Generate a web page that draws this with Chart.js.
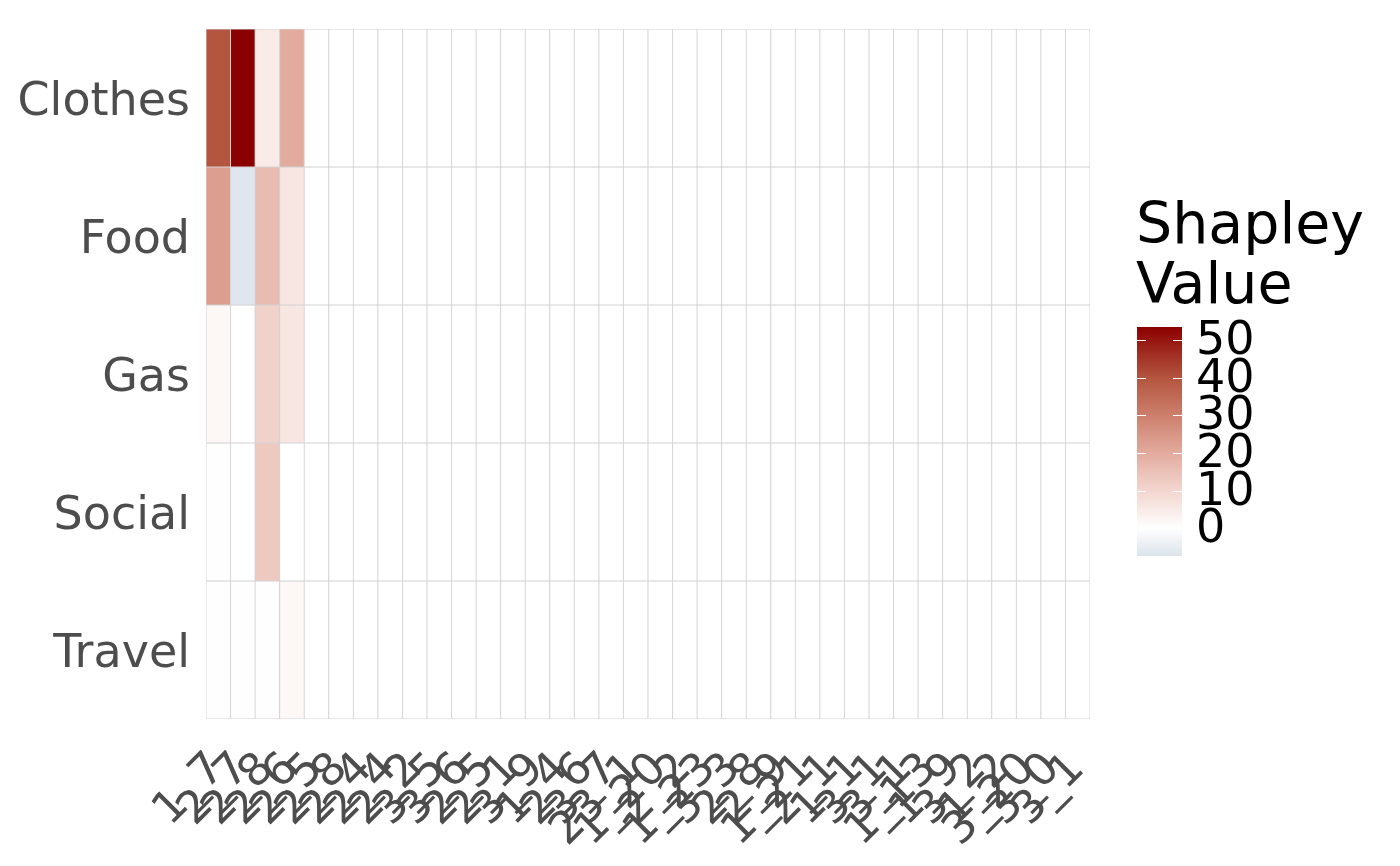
<!DOCTYPE html>
<html>
<head>
<meta charset="utf-8">
<script src="https://cdn.jsdelivr.net/npm/chart.js@4/dist/chart.umd.min.js"></script>
<style>
  html, body { margin: 0; padding: 0; background: #ffffff; }
  #wrap { width: 1400px; height: 866px; }
</style>
</head>
<body>
<div id="wrap"><canvas id="heat" width="1400" height="866"></canvas></div>
<script>
// linhas (de cima para baixo) e colunas
const rows = ['Clothes', 'Food', 'Gas', 'Social', 'Travel'];
const cols = ['1_7','2_7','2_8','2_6','2_5','2_8','2_4','2_4','2_2','3_5','3_6','2_5',
              '2_1','3_9','1_4','2_6','3_7','23_1','1_20','2_2','1_23','3_3','2_8','2_9',
              '1_21','2_1','1_1','3_1','3_1','1_13','1_9','3_2','1_2','3_20','3_0','3_1'];

// valores de Shapley por linha (só as 4 primeiras colunas têm valor, resto é 0)
const clothes = [40, 53.4, 5, 20];
const food    = [23, -6.5, 16, 6];
const gas     = [2, 0, 11, 6];
const social  = [0.3, 0, 13, 0];
const travel  = [0.3, 0.3, 0.2, 2];
const rowValues = [clothes, food, gas, social, travel];

// escala da legenda
const legendTicks = [0, 10, 20, 30, 40, 50];
const scaleMin = -7.3, scaleMax = 53.4;

// paleta (valor -> cor)
const colorStops = [
  [-7.3, [219, 227, 235]],
  [0,    [255, 255, 255]],
  [10,   [243, 214, 207]],
  [20,   [226, 171, 158]],
  [30,   [205, 127, 108]],
  [40,   [179, 85, 63]],
  [53.4, [139, 0, 0]]
];

function colorFor(v){
  if (v <= colorStops[0][0]) return rgb(colorStops[0][1]);
  for (let i = 1; i < colorStops.length; i++){
    const [v1, c1] = colorStops[i];
    const [v0, c0] = colorStops[i-1];
    if (v <= v1){
      const t = (v - v0) / (v1 - v0);
      return rgb(c0.map((c, k) => c + (c1[k] - c) * t));
    }
  }
  return rgb(colorStops[colorStops.length-1][1]);
}
function rgb(c){ return `rgb(${c.map(x => Math.round(x)).join(',')})`; }

function cellValue(r, i){ return i < rowValues[r].length ? rowValues[r][i] : 0; }

// um dataset por linha, barras flutuantes de altura 1
const datasets = rows.map((name, r) => {
  const base = rows.length - 1 - r;
  return {
    label: name,
    data: cols.map(() => [base, base + 1]),
    backgroundColor: cols.map((c, i) => colorFor(cellValue(r, i))),
    borderColor: '#d2d2d2',
    borderWidth: 0.8,
    borderSkipped: false,
    barPercentage: 1,
    categoryPercentage: 1,
    grouped: false
  };
});

const FONT = 'DejaVu Sans';

// legenda de cores desenhada à mão
const colorbarPlugin = {
  id: 'colorbar',
  afterDraw(chart){
    const ctx = chart.ctx;
    const x0 = 1137, w = 45, top = 327, bottom = 556;
    const yOf = v => bottom - (v - scaleMin) / (scaleMax - scaleMin) * (bottom - top);
    const grad = ctx.createLinearGradient(0, bottom, 0, top);
    for (let k = 0; k <= 40; k++){
      const v = scaleMin + (scaleMax - scaleMin) * k / 40;
      grad.addColorStop(k / 40, colorFor(v));
    }
    ctx.save();
    ctx.fillStyle = grad;
    ctx.fillRect(x0, top, w, bottom - top);

    ctx.strokeStyle = '#ffffff';
    ctx.lineWidth = 1;
    ctx.fillStyle = '#000000';
    ctx.font = `46px "${FONT}"`;
    ctx.textAlign = 'left';
    ctx.textBaseline = 'middle';
    legendTicks.forEach(t => {
      const y = Math.round(yOf(t)) + 0.5;
      ctx.beginPath();
      ctx.moveTo(x0, y); ctx.lineTo(x0 + 9, y);
      ctx.moveTo(x0 + w - 9, y); ctx.lineTo(x0 + w, y);
      ctx.stroke();
      ctx.fillText(String(t), 1196, y + 2);
    });

    ctx.font = `57px "${FONT}"`;
    ctx.textBaseline = 'alphabetic';
    ctx.fillText('Shapley', 1136, 243);
    ctx.fillText('Value', 1136, 303);
    ctx.restore();
  }
};

new Chart(document.getElementById('heat'), {
  type: 'bar',
  data: { labels: cols, datasets },
  options: {
    responsive: false,
    animation: false,
    layout: { padding: { top: 29, right: 310, left: 0, bottom: 0 } },
    plugins: { legend: { display: false }, tooltip: { enabled: false } },
    scales: {
      x: {
        grid: { display: false },
        border: { display: false },
        ticks: {
          autoSkip: false,
          maxRotation: 45,
          minRotation: 45,
          padding: 16,
          color: '#4d4d4d',
          font: { family: FONT, size: 45 }
        },
        afterFit(scale){ scale.height = 866 - 719; }
      },
      y: {
        min: 0,
        max: 5,
        grid: { display: false },
        border: { display: false },
        afterBuildTicks(scale){
          scale.ticks = [0.5, 1.5, 2.5, 3.5, 4.5].map(v => ({ value: v }));
        },
        ticks: {
          padding: 8,
          labelOffset: 5,
          color: '#4d4d4d',
          font: { family: FONT, size: 46, lineHeight: 0.9 },
          callback: v => rows[rows.length - 1 - Math.floor(v)]
        },
        afterFit(scale){ scale.width = 206; }
      }
    }
  },
  plugins: [colorbarPlugin]
});
</script>
</body>
</html>
